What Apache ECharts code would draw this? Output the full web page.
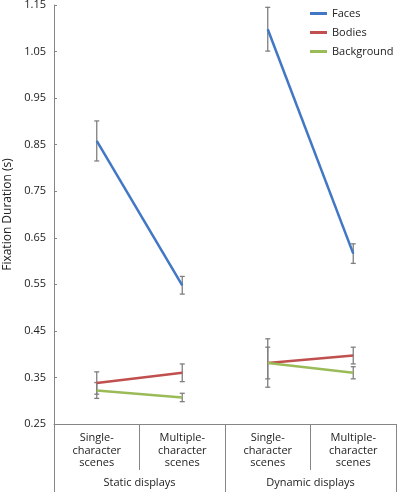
<!DOCTYPE html>
<html>
<head>
<meta charset="utf-8">
<script src="https://cdn.jsdelivr.net/npm/echarts@6/dist/echarts.min.js"></script>
<style>
    html, body {margin: 0; padding: 0; background: #fff;}
    #chart {width: 397px; height: 492px;}
</style>
</head>
<body>
<div id="chart"></div>
<script>
var categories = ['Single-\ncharacter\nscenes', 'Multiple-\ncharacter\nscenes', 'Single-\ncharacter\nscenes', 'Multiple-\ncharacter\nscenes'];
var groups = ['Static displays', 'Dynamic displays'];
var yMin = 0.25, yMax = 1.15;

var faces = [0.858, 0.548, 1.098, 0.616];
var facesErr = [0.043, 0.019, 0.047, 0.021];
var bodies = [0.338, 0.360, 0.381, 0.397];
var bodiesErr = [0.024, 0.019, 0.052, 0.018];
var background = [0.322, 0.307, 0.381, 0.360];
var backgroundErr = [0.017, 0.009, 0.034, 0.013];

var colors = {Faces: '#4177C4', Bodies: '#C0504D', Background: '#9BBB59'};
var font = '"Open Sans", "Noto Sans", sans-serif';

// split a series into the static pair and the dynamic pair
function segment(vals, from) {
    return vals.map(function (v, i) { return (i === from || i === from + 1) ? v : '-'; });
}

function lineSeries(name, vals) {
    return [0, 2].map(function (from) {
        return {
            name: name,
            type: 'line',
            data: segment(vals, from),
            symbol: 'none',
            z: 3,
            lineStyle: {color: colors[name], width: 2.5},
            itemStyle: {color: colors[name]}
        };
    });
}

var errData = [];
[[faces, facesErr], [bodies, bodiesErr], [background, backgroundErr]].forEach(function (p) {
    p[0].forEach(function (v, i) {
        errData.push([i, v - p[1][i], v + p[1][i]]);
    });
});

var chart = echarts.init(document.getElementById('chart'));
var option = {
    animation: false,
    textStyle: {fontFamily: font},
    legend: {
        data: ['Faces', 'Bodies', 'Background'],
        orient: 'vertical',
        left: 305,
        top: 3,
        itemGap: 8,
        itemWidth: 17,
        itemHeight: 3,
        icon: 'rect',
        textStyle: {fontSize: 11, color: '#222', fontFamily: font}
    },
    grid: {left: 54, right: 1, top: 5, bottom: 68, containLabel: false, outerBoundsMode: 'none'},
    xAxis: [
        {
            type: 'category',
            data: categories,
            position: 'bottom',
            boundaryGap: true,
            axisLine: {lineStyle: {color: '#868686', width: 1}},
            axisTick: {show: true, interval: 0, length: 46, lineStyle: {color: '#868686'}},
            axisLabel: {interval: 0, margin: 8, fontSize: 11, lineHeight: 12.5, color: '#222', fontFamily: font}
        },
        {
            type: 'category',
            data: groups,
            position: 'bottom',
            boundaryGap: true,
            axisLine: {show: false},
            axisTick: {show: true, interval: 0, length: 68, lineStyle: {color: '#868686'}},
            axisLabel: {interval: 0, margin: 53, fontSize: 11, color: '#222', fontFamily: font}
        }
    ],
    yAxis: [
        {
            type: 'value',
            min: yMin,
            max: yMax,
            show: false
        },
        {
            // decoration axis: ticks/labels every 0.1 starting at 0.25
            type: 'value',
            min: 0,
            max: yMax - yMin,
            interval: 0.1,
            position: 'left',
            name: 'Fixation Duration (s)',
            nameLocation: 'middle',
            nameRotate: 90,
            nameGap: 37,
            nameTextStyle: {fontSize: 12, color: '#222', fontFamily: font},
            axisLine: {show: true, lineStyle: {color: '#868686', width: 1}},
            axisTick: {show: true, inside: true, length: 3, lineStyle: {color: '#868686'}},
            splitLine: {show: false},
            axisLabel: {
                margin: 8,
                fontSize: 11,
                color: '#222',
                fontFamily: font,
                formatter: function (v) { return (v + yMin).toFixed(2); }
            }
        }
    ],
    series: [].concat(
        lineSeries('Faces', faces),
        lineSeries('Bodies', bodies),
        lineSeries('Background', background),
        [{
            type: 'custom',
            name: 'err',
            data: errData,
            z: 2,
            renderItem: function (params, api) {
                var lo = api.coord([api.value(0), api.value(1)]);
                var hi = api.coord([api.value(0), api.value(2)]);
                var w = 2.5;
                var style = {stroke: '#7f7f7f', lineWidth: 1.3};
                return {
                    type: 'group',
                    children: [
                        {type: 'line', shape: {x1: lo[0], y1: lo[1], x2: hi[0], y2: hi[1]}, style: style},
                        {type: 'line', shape: {x1: lo[0] - w, y1: lo[1], x2: lo[0] + w, y2: lo[1]}, style: style},
                        {type: 'line', shape: {x1: hi[0] - w, y1: hi[1], x2: hi[0] + w, y2: hi[1]}, style: style}
                    ]
                };
            }
        }]
    )
};
chart.setOption(option);
window.onresize = chart.resize;
</script>
</body>
</html>
